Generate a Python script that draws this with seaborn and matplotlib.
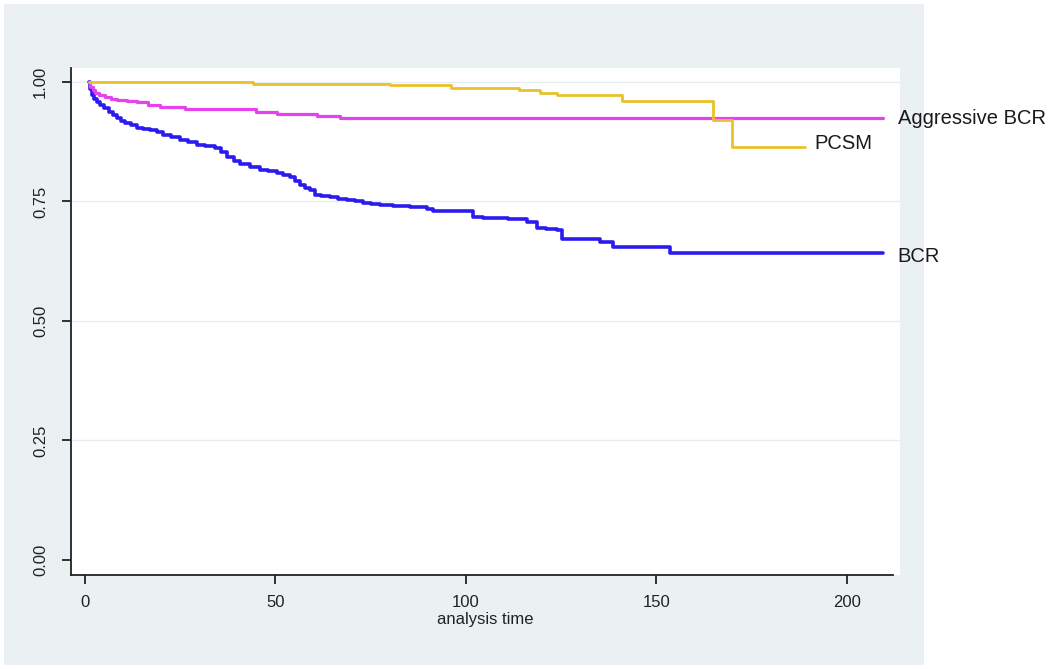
import numpy as np
import pandas as pd
from matplotlib import pyplot as plt
from matplotlib.patches import Rectangle
import seaborn as sns

# Kaplan-Meier estimates (time, survival)
bcr_time = [1, 1.4, 1.8, 2.5, 3.2, 3.9, 5.0, 6.2, 7.3, 8.5, 9.5, 10.5, 12.0, 13.6,
            15.2, 17.1, 18.8, 20.5, 22.5, 24.9, 27.0, 29.4, 31.5, 34.1, 35.8, 37.3,
            39.0, 40.7, 43.3, 45.9, 48.0, 50.4, 52.0, 53.8, 55.2, 56.4, 57.8, 59.1,
            60.4, 62.0, 64.3, 66.5, 68.8, 71.0, 73.0, 75.0, 77.4, 81.0, 85.3, 89.8,
            91.3, 96.0, 101.8, 104.5, 111.0, 116.0, 118.6, 121.0, 123.9, 125.2,
            135.2, 138.6, 153.5, 209.5]
bcr_surv = [1.0, 0.985, 0.973, 0.965, 0.958, 0.952, 0.945, 0.938, 0.931, 0.925,
            0.919, 0.914, 0.909, 0.904, 0.902, 0.900, 0.895, 0.889, 0.884, 0.879,
            0.874, 0.868, 0.865, 0.862, 0.853, 0.843, 0.835, 0.828, 0.822, 0.816,
            0.813, 0.810, 0.806, 0.801, 0.793, 0.785, 0.779, 0.774, 0.764, 0.761,
            0.759, 0.756, 0.753, 0.750, 0.747, 0.745, 0.743, 0.741, 0.738, 0.734,
            0.730, 0.729, 0.718, 0.716, 0.713, 0.707, 0.695, 0.693, 0.690, 0.672,
            0.665, 0.655, 0.642, 0.642]

aggr_time = [1, 1.3, 2.0, 2.6, 3.8, 5.2, 6.8, 8.4, 11.0, 13.6, 16.5, 19.7, 26.2, 45.0,
             50.4, 61.0, 67.0, 209.5]
aggr_surv = [1.0, 0.99, 0.983, 0.977, 0.973, 0.969, 0.965, 0.962, 0.960, 0.957, 0.952,
             0.948, 0.943, 0.938, 0.933, 0.929, 0.924, 0.924]

pcsm_time = [1, 44.0, 80.0, 96.0, 114.0, 119.5, 124.0, 141.0, 165.0, 170.0, 189.0]
pcsm_surv = [1.0, 0.996, 0.993, 0.987, 0.983, 0.976, 0.972, 0.960, 0.921, 0.864, 0.864]

x_ticks = [0, 50, 100, 150, 200]
y_ticks = [0.0, 0.25, 0.5, 0.75, 1.0]
y_ticklabels = ['0.00', '0.25', '0.50', '0.75', '1.00']

curves = [
    ('BCR', bcr_time, bcr_surv, '#2B1BEF', 2.6),
    ('Aggressive BCR', aggr_time, aggr_surv, '#E443EE', 2.3),
    ('PCSM', pcsm_time, pcsm_surv, '#EAC12B', 2.0),
]

sns.set_style('white')
plt.rcParams['font.family'] = ['Liberation Sans', 'DejaVu Sans']

W, H = 1050, 669
fig = plt.figure(figsize=(W / 100, H / 100), dpi=100)
fig.patch.set_facecolor('white')
# light outer panel (graph region), drawn behind the axes
fig.patches.append(Rectangle((4 / W, 4 / H), 920 / W, 661 / H, transform=fig.transFigure,
                             facecolor='#EBF1F2', edgecolor='none', zorder=-10))

ax = fig.add_axes([71 / W, (H - 575) / H, (900 - 71) / W, (575 - 68) / H])
ax.set_zorder(1)
ax.set_facecolor('white')

for name, t, s, col, lw in curves:
    df = pd.DataFrame({'time': t, 'surv': s})
    sns.lineplot(data=df, x='time', y='surv', ax=ax, color=col, linewidth=lw,
                 drawstyle='steps-post', estimator=None)

ax.set_xlim(-3.67, 214)
ax.set_ylim(-0.0314, 1.029)
ax.set_xticks(x_ticks)
ax.set_yticks(y_ticks)
ax.set_yticklabels(y_ticklabels, rotation=90, va='center')
for y in y_ticks[1:]:
    ax.axhline(y, color='#E6EEF0', linewidth=1, zorder=0)

for side in ['top', 'right']:
    ax.spines[side].set_visible(False)
ax.spines['left'].set_color('#222222')
ax.spines['bottom'].set_color('#222222')
ax.spines['left'].set_linewidth(1.3)
ax.spines['bottom'].set_linewidth(1.3)
ax.spines['bottom'].set_bounds(-3.67, 212.1)
ax.tick_params(axis='both', direction='out', length=6.5, width=1.3, color='#222222',
               labelsize=12, labelcolor='#222222')
ax.tick_params(axis='x', pad=8, bottom=True)
ax.tick_params(axis='y', pad=10, left=True)

ax.set_xlabel('analysis time', fontsize=12, color='#222222', labelpad=1)
ax.set_ylabel('')

ax.text(213.4, 0.923, 'Aggressive BCR', fontsize=14.5, va='center', ha='left',
        color='#1a1a1a', clip_on=False)
ax.text(191.6, 0.872, 'PCSM', fontsize=14.5, va='center', ha='left',
        color='#1a1a1a', clip_on=False)
ax.text(213.4, 0.634, 'BCR', fontsize=14.5, va='center', ha='left',
        color='#1a1a1a', clip_on=False)

fig.savefig('out.png', dpi=100)
